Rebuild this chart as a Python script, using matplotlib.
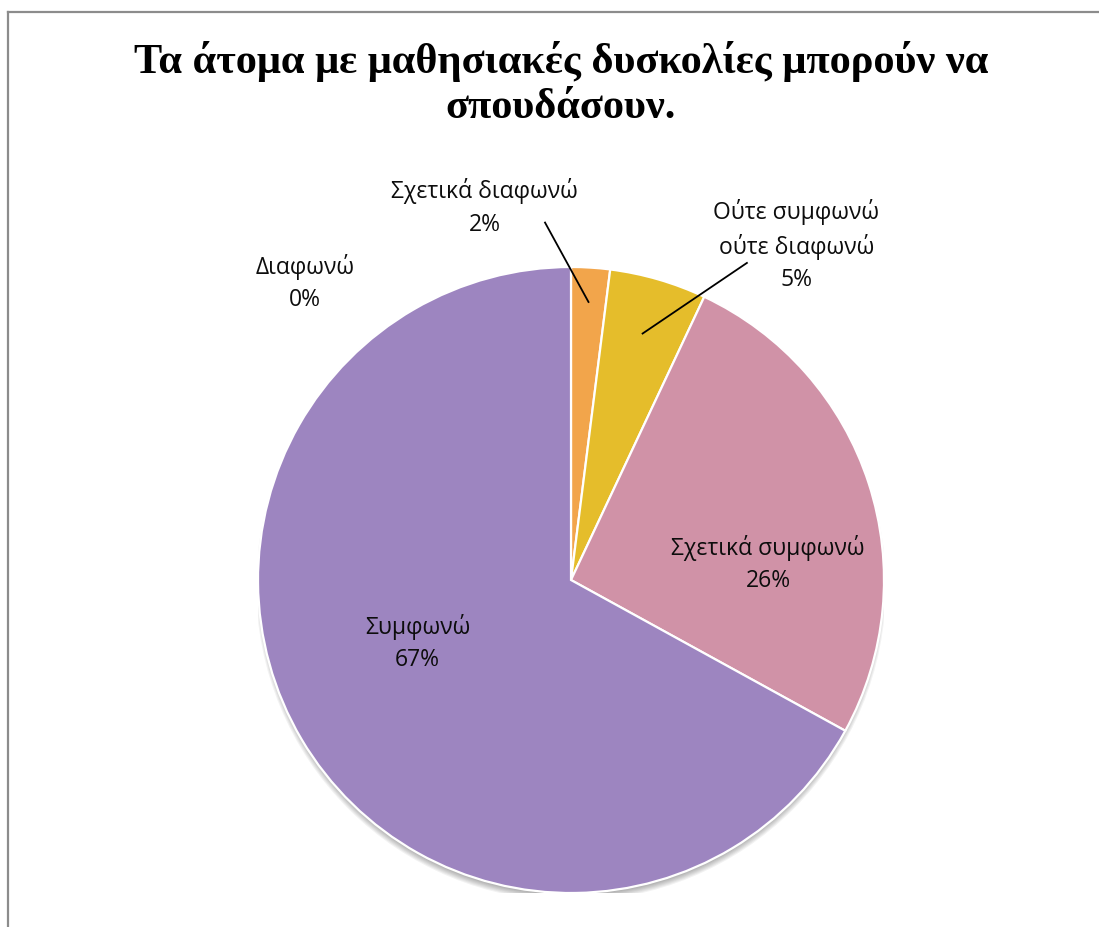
import matplotlib
matplotlib.use("Agg")
import matplotlib.pyplot as plt
from matplotlib.patches import Circle
from matplotlib.lines import Line2D
import numpy as np

# Survey answers and their shares (%)
categories = ["Διαφωνώ", "Σχετικά διαφωνώ", "Ούτε συμφωνώ\nούτε διαφωνώ",
              "Σχετικά συμφωνώ", "Συμφωνώ"]
values = [0, 2, 5, 26, 67]
colors = ["#809EC2", "#F2A54B", "#E5BD2B", "#D092A7", "#9D85C0"]
title = "Τα άτομα με μαθησιακές δυσκολίες μπορούν να\nσπουδάσουν."

# Label placement (radius units) and optional leader line anchors
label_pos = [(-0.85, 0.95), (-0.275, 1.19), (0.72, 1.07), (0.63, 0.05), (-0.49, -0.20)]
leader_start = [None, (-0.083, 1.142), (0.562, 1.013), None, None]
leader_radius = [None, 0.89, 0.82, None, None]

W, H = 1099, 927
fig = plt.figure(figsize=(W / 100, H / 100), dpi=100)
fig.patch.set_facecolor("white")

# Chart-area frame (top and left edges visible)
fig.add_artist(Line2D([8 / W, 1.0], [1 - 12 / H, 1 - 12 / H], color="#8C8C8C", lw=1.6))
fig.add_artist(Line2D([8 / W, 8 / W], [1 - 12 / H, 0.0], color="#8C8C8C", lw=1.6))

fig.text(561 / W, 1 - 84 / H, title, ha="center", va="center",
         family="Liberation Serif", fontweight="bold", fontsize=30.5,
         linespacing=1.25)

cx, cy, r = 571, 580, 313
ax = fig.add_axes([(cx - r) / W, (H - cy - r) / H, 2 * r / W, 2 * r / H])
ax.set_xlim(-1, 1)
ax.set_ylim(-1, 1)
ax.axis("off")

# Soft drop shadow beneath the pie
for i in range(7):
    ax.add_patch(Circle((0, -0.02), 0.985 + 0.0035 * i, facecolor="#000000",
                        alpha=0.05, edgecolor="none", zorder=0))

wedges, _ = ax.pie(values, colors=colors, startangle=90, counterclock=False,
                   radius=1.0, frame=False,
                   wedgeprops=dict(edgecolor="white", linewidth=1.6))
for w in wedges:
    w.set_zorder(2)
ax.set_xlim(-1, 1)
ax.set_ylim(-1, 1)
ax.set_aspect("auto")

total = sum(values)
cum = np.cumsum([0] + values)
for i, (cat, v) in enumerate(zip(categories, values)):
    pct = round(100 * v / total)
    ax.text(*label_pos[i], f"{cat}\n{pct}%", ha="center", va="center",
            fontsize=16.5, family="Open Sans", color="#0D0D0D",
            linespacing=1.45, zorder=5, clip_on=False)
    if leader_start[i] is not None:
        mid = (cum[i] + v / 2) / total * 2 * np.pi
        ex, ey = leader_radius[i] * np.sin(mid), leader_radius[i] * np.cos(mid)
        ax.add_line(Line2D([leader_start[i][0], ex], [leader_start[i][1], ey],
                           color="black", lw=1.3, zorder=6, clip_on=False))

fig.savefig("out.png", dpi=100, facecolor="white")
